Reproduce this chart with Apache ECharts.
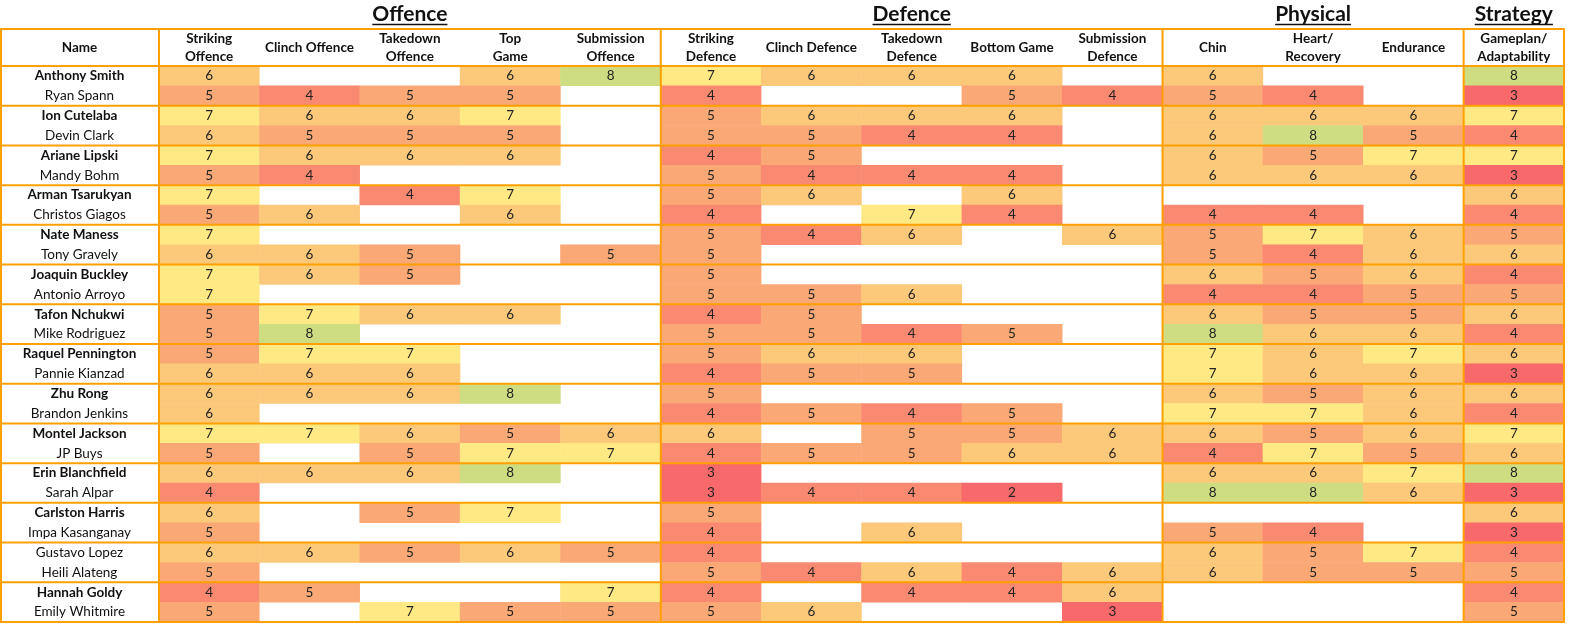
<!DOCTYPE html>
<html>
<head>
<meta charset="utf-8">
<script src="https://cdn.jsdelivr.net/npm/echarts@6/dist/echarts.min.js"></script>
<style>
  html, body { margin: 0; padding: 0; background: #fff; }
  #chart { width: 1577px; height: 631px; }
</style>
</head>
<body>
<div id="chart"></div>
<script>
const FIGHTERS = [
  'Anthony Smith', 'Ryan Spann', 'Ion Cutelaba', 'Devin Clark', 'Ariane Lipski', 'Mandy Bohm',
  'Arman Tsarukyan', 'Christos Giagos', 'Nate Maness', 'Tony Gravely', 'Joaquin Buckley', 'Antonio Arroyo',
  'Tafon Nchukwi', 'Mike Rodriguez', 'Raquel Pennington', 'Pannie Kianzad', 'Zhu Rong', 'Brandon Jenkins',
  'Montel Jackson', 'JP Buys', 'Erin Blanchfield', 'Sarah Alpar', 'Carlston Harris', 'Impa Kasanganay',
  'Gustavo Lopez', 'Heili Alateng', 'Hannah Goldy', 'Emily Whitmire',
];

// names printed in bold in the Name column
const BOLD_FIGHTERS = [
  'Anthony Smith', 'Ion Cutelaba', 'Ariane Lipski', 'Arman Tsarukyan', 'Nate Maness', 'Joaquin Buckley',
  'Tafon Nchukwi', 'Raquel Pennington', 'Zhu Rong', 'Montel Jackson', 'Erin Blanchfield', 'Carlston Harris',
  'Hannah Goldy',
];

const COLUMNS = [
  'Striking\nOffence', 'Clinch Offence', 'Takedown\nOffence', 'Top\nGame', 'Submission\nOffence',
  'Striking\nDefence', 'Clinch Defence', 'Takedown\nDefence', 'Bottom Game', 'Submission\nDefence',
  'Chin', 'Heart/\nRecovery', 'Endurance',
  'Gameplan/\nAdaptability',
];

const GROUPS = ['Offence', 'Defence', 'Physical', 'Strategy'];
const GROUP_SIZES = [5, 5, 3, 1];

// one row per fighter, one value per column, null = blank cell
const _ = null;
const RATINGS = [
  [6, _, _, 6, 8,   7, 6, 6, 6, _,   6, _, _,   8],
  [5, 4, 5, 5, _,   4, _, _, 5, 4,   5, 4, _,   3],
  [7, 6, 6, 7, _,   5, 6, 6, 6, _,   6, 6, 6,   7],
  [6, 5, 5, 5, _,   5, 5, 4, 4, _,   6, 8, 5,   4],
  [7, 6, 6, 6, _,   4, 5, _, _, _,   6, 5, 7,   7],
  [5, 4, _, _, _,   5, 4, 4, 4, _,   6, 6, 6,   3],
  [7, _, 4, 7, _,   5, 6, _, 6, _,   _, _, _,   6],
  [5, 6, _, 6, _,   4, _, 7, 4, _,   4, 4, _,   4],
  [7, _, _, _, _,   5, 4, 6, _, 6,   5, 7, 6,   5],
  [6, 6, 5, _, 5,   5, _, _, _, _,   5, 4, 6,   6],
  [7, 6, 5, _, _,   5, _, _, _, _,   6, 5, 6,   4],
  [7, _, _, _, _,   5, 5, 6, _, _,   4, 4, 5,   5],
  [5, 7, 6, 6, _,   4, 5, _, _, _,   6, 5, 5,   6],
  [5, 8, _, _, _,   5, 5, 4, 5, _,   8, 6, 6,   4],
  [5, 7, 7, _, _,   5, 6, 6, _, _,   7, 6, 7,   6],
  [6, 6, 6, _, _,   4, 5, 5, _, _,   7, 6, 6,   3],
  [6, 6, 6, 8, _,   5, _, _, _, _,   6, 5, 6,   6],
  [6, _, _, _, _,   4, 5, 4, 5, _,   7, 7, 6,   4],
  [7, 7, 6, 5, 6,   6, _, 5, 5, 6,   6, 5, 6,   7],
  [5, _, 5, 7, 7,   4, 5, 5, 6, 6,   4, 7, 5,   6],
  [6, 6, 6, 8, _,   3, _, _, _, _,   6, 6, 7,   8],
  [4, _, _, _, _,   3, 4, 4, 2, _,   8, 8, 6,   3],
  [6, _, 5, 7, _,   5, _, _, _, _,   _, _, _,   6],
  [5, _, _, _, _,   4, _, 6, _, _,   5, 4, _,   3],
  [6, 6, 5, 6, 5,   4, _, _, _, _,   6, 5, 7,   4],
  [5, _, _, _, _,   5, 4, 6, 4, 6,   6, 5, 5,   5],
  [4, 5, _, _, 7,   4, _, 4, 4, 6,   _, _, _,   4],
  [5, _, 7, 5, 5,   5, 6, _, _, 3,   _, _, _,   5],
];

const FONT = 'Lato, "Open Sans", sans-serif';
const ORANGE = '#ffa000';
const TEXT = '#111';
const BODY_SIZE = 13.5;

// table frame
const LEFT = 159, RIGHT = 1564, TOP = 66, BOTTOM = 622, HEAD_TOP = 29;
const colW = (RIGHT - LEFT) / COLUMNS.length;
const rowH = (BOTTOM - TOP) / FIGHTERS.length;

const cells = [];
RATINGS.forEach((row, r) => {
  row.forEach((v, c) => {
    if (v !== null) cells.push([c, r, v]);
  });
});

const measure = (text, font) => {
  const ctx = document.createElement('canvas').getContext('2d');
  ctx.font = font;
  return ctx.measureText(text).width;
};

const graphics = [];
const line = (x1, y1, x2, y2) => graphics.push({
  type: 'line',
  z: 100,
  shape: { x1, y1, x2, y2 },
  style: { stroke: ORANGE, lineWidth: 2 },
});

// group titles with underline
let start = 0;
GROUPS.forEach((g, i) => {
  const cx = LEFT + (start + GROUP_SIZES[i] / 2) * colW;
  const w = measure(g, 'bold 21px Lato');
  graphics.push({
    type: 'text',
    x: cx,
    y: 14,
    style: { text: g, font: 'bold 21px ' + FONT, fill: TEXT, align: 'center', verticalAlign: 'middle' },
  });
  graphics.push({
    type: 'line',
    shape: { x1: cx - w / 2, y1: 24.5, x2: cx + w / 2, y2: 24.5 },
    style: { stroke: TEXT, lineWidth: 1.4 },
  });
  start += GROUP_SIZES[i];
  if (i < GROUPS.length - 1) line(LEFT + start * colW, HEAD_TOP, LEFT + start * colW, BOTTOM);
});

graphics.push({
  type: 'text',
  x: LEFT / 2,
  y: (HEAD_TOP + TOP) / 2,
  style: { text: 'Name', font: 'bold ' + BODY_SIZE + 'px ' + FONT, fill: TEXT, align: 'center', verticalAlign: 'middle' },
});

// outer frame, name column, header row, pair separators
line(1, HEAD_TOP, 1, BOTTOM);
line(LEFT, HEAD_TOP, LEFT, BOTTOM);
line(RIGHT, HEAD_TOP, RIGHT, BOTTOM);
line(0, HEAD_TOP, RIGHT + 1, HEAD_TOP);
line(0, TOP, RIGHT + 1, TOP);
for (let k = 2; k <= FIGHTERS.length; k += 2) line(0, TOP + k * rowH, RIGHT + 1, TOP + k * rowH);

const chart = echarts.init(document.getElementById('chart'));

chart.setOption({
  backgroundColor: '#fff',
  animation: false,
  grid: { left: LEFT, top: TOP, width: RIGHT - LEFT, height: BOTTOM - TOP },
  xAxis: {
    type: 'category',
    position: 'top',
    data: COLUMNS,
    axisLine: { show: false },
    axisTick: { show: false },
    splitLine: { show: false },
    axisLabel: {
      interval: 0,
      margin: 18,
      verticalAlign: 'middle',
      lineHeight: 18,
      fontFamily: FONT,
      fontSize: BODY_SIZE,
      fontWeight: 'bold',
      color: TEXT,
    },
  },
  yAxis: {
    type: 'category',
    inverse: true,
    data: FIGHTERS,
    axisLine: { show: false },
    axisTick: { show: false },
    splitLine: { show: false },
    axisLabel: {
      interval: 0,
      align: 'center',
      margin: LEFT / 2,
      formatter: (v) => (BOLD_FIGHTERS.includes(v) ? `{b|${v}}` : `{n|${v}}`),
      rich: {
        b: { fontFamily: FONT, fontSize: BODY_SIZE, fontWeight: 'bold', color: TEXT },
        n: { fontFamily: FONT, fontSize: BODY_SIZE, color: TEXT },
      },
    },
  },
  visualMap: {
    type: 'piecewise',
    show: false,
    dimension: 2,
    pieces: [
      { value: 2, color: '#f8696b' },
      { value: 3, color: '#f8696b' },
      { value: 4, color: '#f98a71' },
      { value: 5, color: '#faa875' },
      { value: 6, color: '#fcc97b' },
      { value: 7, color: '#ffe984' },
      { value: 8, color: '#cedd82' },
    ],
  },
  series: [
    {
      type: 'heatmap',
      data: cells,
      label: {
        show: true,
        formatter: (p) => p.value[2],
        fontFamily: FONT,
        fontSize: BODY_SIZE,
        color: '#222',
      },
      emphasis: { disabled: true },
    },
  ],
  graphic: graphics,
});
</script>
</body>
</html>
